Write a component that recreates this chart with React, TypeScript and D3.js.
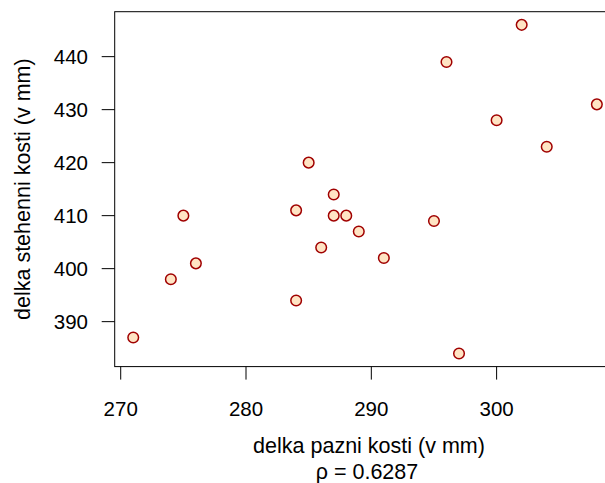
import React from "react";
import * as d3 from "d3";

const pazni: number[] = [271, 274, 275, 276, 284, 284, 285, 286, 287, 287, 288, 289, 291, 295, 296, 297, 300, 302, 304, 308];
const stehenni: number[] = [387, 398, 410, 401, 411, 394, 420, 404, 414, 410, 410, 407, 402, 409, 439, 384, 428, 446, 423, 431];
const xTicks: number[] = [270, 280, 290, 300];
const yTicks: number[] = [390, 400, 410, 420, 430, 440];
const xLabel = "delka pazni kosti (v mm)";
const yLabel = "delka stehenni kosti (v mm)";
const rhoLabel = "0.6287";

export default function App() {
  const W = 605, H = 483;
  const left = 114.7, right = 615.4, top = 11.7, bottom = 366.6;
  const [x0, x1] = d3.extent(pazni) as [number, number];
  const [y0, y1] = d3.extent(stehenni) as [number, number];
  const dx = (x1 - x0) * 0.04, dy = (y1 - y0) * 0.04;
  const x = d3.scaleLinear().domain([x0 - dx, x1 + dx]).range([left, right]);
  const y = d3.scaleLinear().domain([y0 - dy, y1 + dy]).range([bottom, top]);
  const font = "'Liberation Sans', Arial, Helvetica, sans-serif";
  const fs = 20.5;
  const tick = 13;
  return (
    <svg width={W} height={H} style={{ position: "absolute", left: 0, top: 0, background: "#fff" }} fontFamily={font}>
      <rect x={left} y={top} width={right - left} height={bottom - top} fill="none" stroke="#000" strokeWidth={1} />
      {xTicks.map((t) => (
        <g key={"x" + t}>
          <line x1={x(t)} x2={x(t)} y1={bottom} y2={bottom + tick} stroke="#000" strokeWidth={1} />
          <text x={x(t)} y={416} fontSize={fs} textAnchor="middle" fill="#000">{t}</text>
        </g>
      ))}
      {yTicks.map((t) => (
        <g key={"y" + t}>
          <line x1={left - tick} x2={left} y1={y(t)} y2={y(t)} stroke="#000" strokeWidth={1} />
          <text x={88} y={y(t)} dy="0.36em" fontSize={fs} textAnchor="end" fill="#000">{t}</text>
        </g>
      ))}
      <text x={369} y={453} fontSize={fs + 1} textAnchor="middle" fill="#000">{xLabel}</text>
      <text x={367} y={479} fontSize={21.5} textAnchor="middle" fill="#000">
        {"ρ = " + rhoLabel}
      </text>
      <text transform={`translate(30, ${(top + bottom) / 2}) rotate(-90)`} fontSize={fs + 1} textAnchor="middle" fill="#000">{yLabel}</text>
      {pazni.map((v, i) => (
        <circle key={i} cx={x(v)} cy={y(stehenni[i])} r={5.3} fill="#FFE4C4" stroke="#A00000" strokeWidth={1.5} />
      ))}
    </svg>
  );
}
